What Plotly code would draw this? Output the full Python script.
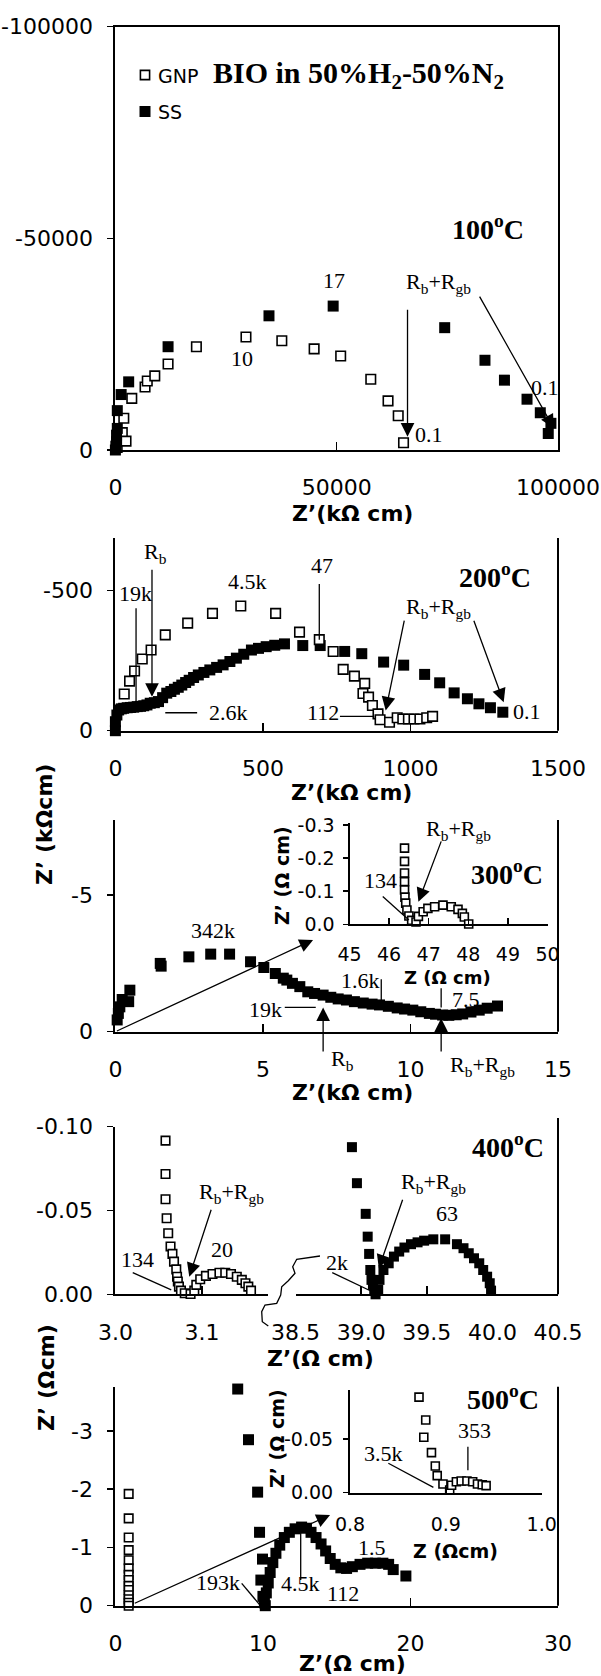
import plotly.graph_objects as go

W, H = 601, 1676
SANS = "DejaVu Sans"
SERIF = "Liberation Serif"

# ---------------- data (x = Z', y = -Z'') ----------------
# 100 C  (kOhm cm)
gnp100_x = [400, 900, 1560, 1900, 2400, 3700, 6700, 7200, 8900, 11900, 18300, 29500, 37600, 44900, 50900, 57700, 61600, 63900, 65100]
gnp100_y = [-600, -2600, -4100, -7500, -2100, -12200, -14900, -16300, -17500, -20300, -24400, -26700, -25800, -23900, -22200, -16700, -11600, -8100, -1700]
ss100_x = [0, 100, 260, 260, 430, 430, 1300, 3000, 11900, 34700, 49200, 74400, 83500, 87900, 93000, 96000, 98400, 97800]
ss100_y = [0, -900, -1960, -3500, -5100, -9300, -13100, -16100, -24400, -31700, -34000, -28900, -21200, -16500, -12000, -8800, -6300, -3900]

# 200 C  (kOhm cm)
gnp200_x = [30, 48, 65, 91, 121, 169, 245, 329, 425, 543, 624, 691, 738, 772, 810, 845, 839, 858, 871, 890, 897, 929, 955, 974, 993, 1012, 1032, 1055, 1075]
gnp200_y = [-131, -177, -213, -256, -288, -342, -384, -419, -445, -419, -352, -325, -283, -219, -195, -169, -133, -120, -90, -60, -39, -30, -46, -42, -42, -42, -42, -46, -51]
ss200_x = [0, 0, 5, 11, 20, 28, 40, 51, 62, 74, 85, 96, 107, 118, 132, 146, 160, 174, 188, 200, 213, 225, 238, 250, 265, 281, 300, 320, 343, 365, 388, 410, 435, 461, 485, 511, 540, 573, 635, 694, 777, 835, 909, 977, 1048, 1099, 1148, 1193, 1232, 1271, 1313]
ss200_y = [0, -32, -56, -74, -78, -80, -82, -83, -84, -86, -87, -89, -92, -98, -100, -104, -118, -134, -140, -148, -155, -163, -172, -180, -190, -199, -208, -217, -226, -235, -247, -259, -273, -288, -294, -300, -305, -310, -304, -304, -283, -275, -245, -234, -201, -171, -135, -114, -96, -82, -66]

# 300 C  (kOhm cm)
ss300_x = [0.06, 0.1, 0.15, 0.23, 0.45, 0.49, 1.52, 1.55, 2.49, 3.23, 3.87, 4.58, 5.03, 5.42, 5.69, 5.81, 6.0, 6.25, 6.52, 6.75, 7.04, 7.3, 7.55, 7.83, 8.1, 8.4, 8.7, 8.95, 9.25, 9.55, 9.8, 10.08, 10.35, 10.64, 10.85, 11.09, 11.3, 11.55, 11.77, 12.05, 12.33, 12.6, 12.95]
ss300_y = [-0.43, -0.67, -0.91, -1.18, -1.1, -1.52, -2.5, -2.4, -2.74, -2.84, -2.84, -2.56, -2.35, -2.13, -1.96, -1.89, -1.77, -1.65, -1.46, -1.4, -1.34, -1.26, -1.2, -1.16, -1.1, -1.05, -1.01, -0.98, -0.93, -0.87, -0.83, -0.79, -0.73, -0.67, -0.64, -0.61, -0.6, -0.62, -0.65, -0.72, -0.79, -0.86, -0.94]
# 300 C inset (Ohm cm)
gnp300_x = [46.39, 46.39, 46.39, 46.39, 46.39, 46.4, 46.42, 46.45, 46.5, 46.57, 46.68, 46.74, 46.86, 46.98, 47.15, 47.36, 47.57, 47.74, 47.85, 47.9, 48.01]
gnp300_y = [-0.23, -0.19, -0.155, -0.129, -0.104, -0.082, -0.064, -0.043, -0.025, -0.012, -0.007, -0.024, -0.038, -0.048, -0.053, -0.058, -0.053, -0.045, -0.033, -0.022, -0.001]

# 400 C (Ohm cm)
gnp400_x = [3.0578, 3.0578, 3.0578, 3.0591, 3.0609, 3.0636, 3.0658, 3.0676, 3.0702, 3.0711, 3.072, 3.0733, 3.0756, 3.08, 3.0867, 3.091, 3.0933, 3.0978, 3.1044, 3.112, 3.12, 3.1267, 3.1333, 3.14, 3.1458, 3.15, 3.1533, 3.1564]
gnp400_y = [-0.0917, -0.0718, -0.0567, -0.0454, -0.0364, -0.0285, -0.0241, -0.0195, -0.0149, -0.0105, -0.0076, -0.0046, -0.0022, -0.0006, -0.0002, -0.0022, -0.0056, -0.009, -0.011, -0.0121, -0.0129, -0.0129, -0.0121, -0.0105, -0.0086, -0.0066, -0.0046, -0.0022]
ss400_x = [38.93, 38.968, 39.035, 39.05, 39.061, 39.07, 39.079, 39.09, 39.1, 39.11, 39.13, 39.14, 39.17, 39.21, 39.25, 39.29, 39.33, 39.38, 39.43, 39.48, 39.55, 39.64, 39.73, 39.78, 39.82, 39.86, 39.9, 39.93, 39.96, 39.98, 39.99]
ss400_y = [-0.0878, -0.0663, -0.048, -0.0344, -0.0241, -0.0145, -0.0086, -0.0056, -0.0026, 0.0, -0.0026, -0.0086, -0.0145, -0.0185, -0.0225, -0.0255, -0.0279, -0.0299, -0.031, -0.032, -0.0328, -0.0328, -0.0299, -0.0275, -0.0245, -0.0215, -0.0185, -0.0145, -0.0105, -0.0066, -0.0022]

# 500 C (Ohm cm)
gnp500_x = [0.9, 0.9, 0.9, 0.9, 0.9, 0.9, 0.9, 0.9, 0.9, 0.9, 0.9, 0.9, 0.9, 0.9]
gnp500_y = [-1.92, -1.5, -1.17, -0.955, -0.78, -0.64, -0.53, -0.44, -0.34, -0.27, -0.18, -0.11, -0.05, 0]
ss500_x = [8.29, 9.02, 9.64, 9.77, 9.97, 9.86, 10.0, 10.1, 10.16, 10.23, 10.36, 10.49, 10.67, 10.88, 11.14, 11.45, 11.79, 12.18, 12.62, 12.95, 13.26, 13.6, 13.94, 14.25, 14.56, 14.9, 15.28, 15.67, 16.06, 16.58, 17.1, 17.62, 18.13, 18.52, 18.83, 19.69]
ss500_y = [-3.72, -2.85, -1.95, -1.26, -0.8, -0.44, -0.16, -0.05, 0, -0.22, -0.39, -0.57, -0.74, -0.9, -1.04, -1.17, -1.26, -1.32, -1.35, -1.33, -1.26, -1.17, -1.06, -0.94, -0.81, -0.71, -0.65, -0.64, -0.67, -0.71, -0.73, -0.73, -0.73, -0.71, -0.62, -0.51]
gnp500i_x = [0.872, 0.879, 0.877, 0.885, 0.889, 0.891, 0.897, 0.904, 0.906, 0.911, 0.916, 0.922, 0.928, 0.933, 0.938, 0.942]
gnp500i_y = [-0.0893, -0.068, -0.0519, -0.0375, -0.025, -0.016, -0.0081, -0.0025, -0.007, -0.0103, -0.011, -0.011, -0.0103, -0.0081, -0.0075, -0.0066]

# ---------------- tick labels ----------------
p1_xt, p1_xl = [0, 50000, 100000], ["0", "50000", "100000"]
p1_yt, p1_yl = [0, -50000, -100000], ["0", "-50000", "-100000"]
p2_xt, p2_xl = [0, 500, 1000, 1500], ["0", "500", "1000", "1500"]
p2_yt, p2_yl = [0, -500], ["0", "-500"]
p3_xt, p3_xl = [0, 5, 10, 15], ["0", "5", "10", "15"]
p3_yt, p3_yl = [0, -5], ["0", "-5"]
i3_xt, i3_xl = [45, 46, 47, 48, 49, 50], ["45", "46", "47", "48", "49", "50"]
i3_yt, i3_yl = [0, -0.1, -0.2, -0.3], ["0.0", "-0.1", "-0.2", "-0.3"]
p4l_xt, p4l_xl = [3.0, 3.1], ["3.0", "3.1"]
p4r_xt, p4r_xl = [38.5, 39.0, 39.5, 40.0, 40.5], ["38.5", "39.0", "39.5", "40.0", "40.5"]
p4_yt, p4_yl = [0, -0.05, -0.10], ["0.00", "-0.05", "-0.10"]
p5_xt, p5_xl = [0, 10, 20, 30], ["0", "10", "20", "30"]
p5_yt, p5_yl = [0, -1, -2, -3], ["0", "-1", "-2", "-3"]
i5_xt, i5_xl = [0.8, 0.9, 1.0], ["0.8", "0.9", "1.0"]
i5_yt, i5_yl = [0, -0.05], ["0.00", "-0.05"]
series_names = ["GNP", "SS"]

TICK = 22
ITICK = 19
LAB = 22
TEMP = 28


def PX(p):
    return p / W


def PY(p):
    return 1 - p / H


def xax(l, r, rng, tv, tt, anchor, size=TICK, standoff=17, ticklen=8, mirror=False):
    return dict(domain=[PX(l), PX(r)], range=rng, anchor=anchor, showline=True, linecolor="black",
                linewidth=2, ticks="inside", ticklen=ticklen, tickwidth=1.5, tickcolor="black",
                tickvals=tv, ticktext=tt, tickfont=dict(family=SANS, size=size, color="black"),
                ticklabelstandoff=standoff, showgrid=False, zeroline=False, mirror=mirror,
                automargin=False, fixedrange=True)


def yax(top, bot, rng, tv, tt, anchor, size=TICK, standoff=10, ticklen=6, mirror=False):
    return dict(domain=[PY(bot), PY(top)], range=rng, anchor=anchor, showline=True, linecolor="black",
                linewidth=2, ticks="outside", ticklen=ticklen, tickwidth=1.5, tickcolor="black",
                tickvals=tv, ticktext=tt, tickfont=dict(family=SANS, size=size, color="black"),
                ticklabelstandoff=standoff, showgrid=False, zeroline=False, mirror=mirror,
                automargin=False, fixedrange=True)


def gnp(x, y, xa, ya, size=9.5):
    return go.Scatter(x=x, y=y, xaxis=xa, yaxis=ya, mode="markers", name="GNP", showlegend=False,
                      cliponaxis=False, hoverinfo="skip",
                      marker=dict(symbol="square", size=size, color="white", line=dict(color="black", width=1.6)))


def ss(x, y, xa, ya, size=11):
    return go.Scatter(x=x, y=y, xaxis=xa, yaxis=ya, mode="markers", name="SS", showlegend=False,
                      cliponaxis=False, hoverinfo="skip",
                      marker=dict(symbol="square", size=size, color="black", line=dict(width=0)))


fig = go.Figure()
fig.add_trace(gnp(gnp100_x, gnp100_y, "x", "y"))
fig.add_trace(ss(ss100_x, ss100_y, "x", "y"))
fig.add_trace(ss(ss200_x, ss200_y, "x2", "y2"))
fig.add_trace(gnp(gnp200_x, gnp200_y, "x2", "y2"))
fig.add_trace(ss(ss300_x, ss300_y, "x3", "y3"))
fig.add_trace(gnp(gnp300_x, gnp300_y, "x4", "y4", size=8))
fig.add_trace(gnp(gnp400_x, gnp400_y, "x5", "y5", size=8.5))
fig.add_trace(ss(ss400_x, ss400_y, "x6", "y5", size=10))
fig.add_trace(gnp(gnp500_x, gnp500_y, "x7", "y7", size=8.5))
fig.add_trace(ss(ss500_x, ss500_y, "x7", "y7"))
fig.add_trace(gnp(gnp500i_x, gnp500i_y, "x8", "y8", size=8))

ann = []
shapes = []


def text(t, x, y, size=LAB, family=SERIF, angle=0, xanchor="center"):
    ann.append(dict(text=t, x=PX(x), y=PY(y), xref="paper", yref="paper", showarrow=False,
                    font=dict(family=family, size=size, color="black"), xanchor=xanchor,
                    yanchor="middle", textangle=angle))


def arrow(xa, ya, x, y, ax, ay):
    ann.append(dict(text="", x=x, y=y, ax=ax, ay=ay, xref=xa, yref=ya, axref=xa, ayref=ya,
                    showarrow=True, arrowhead=2, arrowsize=2.1, arrowwidth=1.3, arrowcolor="black"))


def seg(xa, ya, x0, y0, x1, y1, w=1.3):
    shapes.append(dict(type="line", xref=xa, yref=ya, x0=x0, y0=y0, x1=x1, y1=y1,
                       line=dict(color="black", width=w)))


def rborder(xa, ya, y0=0, y1=1):
    shapes.append(dict(type="line", xref=xa + " domain", yref=ya, x0=1, x1=1, y0=y0, y1=y1,
                       line=dict(color="black", width=2)))


def legend_box(cx, cy, half, fill, lw):
    shapes.append(dict(type="rect", xref="paper", yref="paper",
                       x0=PX(cx - half), x1=PX(cx + half), y0=PY(cy + half), y1=PY(cy - half),
                       fillcolor=fill, line=dict(color="black", width=lw)))


RBRGB = "R<sub>b</sub>+R<sub>gb</sub>"
BOLD = lambda s: "<b>" + s + "</b>"

# ---- legend (drawn manually as in the original) ----
legend_box(145, 75, 4.6, "white", 1.6)
text(series_names[0], 156, 76, size=19, family=SANS, xanchor="left")
legend_box(145, 111.5, 5.5, "black", 0)
text(series_names[1], 156, 112, size=19, family=SANS, xanchor="left")

# ---- panel 1 ----
text(BOLD("BIO in 50%H<sub>2</sub>-50%N<sub>2</sub>"), 358, 75, size=30)
text(BOLD("100<sup>o</sup>C"), 488, 227, size=TEMP)
text("17", 334, 280)
text("10", 242, 358)
text(RBRGB, 438, 283)
text("0.1", 429, 435)
text("0.1", 545, 387)
arrow("x", "y", 66000, -3140, 66000, -33470)
arrow("x", "y", 99050, -5130, 82100, -36600)
text(BOLD("Z’(kΩ cm)"), 352, 513, size=22, family=SANS)

# ---- panel 2 ----
rborder("x2", "y2 domain")
text(BOLD("200<sup>o</sup>C"), 495, 575, size=TEMP)
text("R<sub>b</sub>", 155, 553)
arrow("x2", "y2", 124, -121, 124, -580)
text("19k", 135, 593)
seg("x2", "y2", 70, -437, 70, -104)
text("4.5k", 247, 582)
text("47", 322, 565)
seg("x2", "y2", 691, -524, 691, -325)
text(RBRGB, 438, 608)
arrow("x2", "y2", 916, -72, 980, -398)
arrow("x2", "y2", 1316, -102, 1213, -398)
text("2.6k", 228, 713)
seg("x2", "y2", 169, -64, 277, -64)
text("112", 323, 713)
seg("x2", "y2", 761, -51, 877, -51)
text("0.1", 527, 712)
text(BOLD("Z’(kΩ cm)"), 351, 792, size=22, family=SANS)
text(BOLD("Z’ (kΩcm)"), 44, 825, size=22, family=SANS, angle=-90)

# ---- panel 3 ----
rborder("x3", "y3 domain")
text(BOLD("300<sup>o</sup>C"), 507, 872, size=TEMP)
text("342k", 213, 930)
arrow("x3", "y3", 6.7, -3.36, 0.0, 0.0)
text("19k", 265, 1009)
seg("x3", "y3", 5.74, -0.89, 6.79, -0.89)
arrow("x3", "y3", 7.04, -0.89, 7.04, 0.78)
text("R<sub>b</sub>", 342, 1060)
text("1.6k", 360, 980)
seg("x3", "y3", 9.01, -1.92, 9.01, -1.1)
text("7.5", 466, 999)
seg("x3", "y3", 11.04, -1.59, 11.04, -0.89)
arrow("x3", "y3", 11.04, -0.49, 11.04, 0.78)
text(RBRGB, 483, 1066)
text(BOLD("Z’(kΩ cm)"), 352, 1092, size=22, family=SANS)
# inset
text("134", 380, 880)
seg("x4", "y4", 45.84, -0.084, 46.5, -0.013)
text(RBRGB, 458, 830)
arrow("x4", "y4", 46.74, -0.068, 47.33, -0.255)
text(BOLD("Z (Ω cm)"), 447, 977, size=18, family=SANS)
text(BOLD("Z’ (Ω cm)"), 282, 876, size=19, family=SANS, angle=-90)

# ---- panel 4 ----
shapes.append(dict(type="line", xref="x6 domain", yref="paper", x0=1, x1=1, y0=PY(1294.3), y1=PY(1118),
                   line=dict(color="black", width=2)))
text(BOLD("400<sup>o</sup>C"), 508, 1145, size=TEMP)
text(RBRGB, 231, 1193)
arrow("x5", "y5", 3.0852, -0.0105, 3.111, -0.0513)
text("20", 222, 1249)
text("134", 137, 1259)
seg("x5", "y5", 3.02, -0.0129, 3.0644, -0.0026)
text("2k", 337, 1262)
seg("x6", "y5", 38.78, -0.0129, 39.07, -0.0021)
text(RBRGB, 433, 1183)
arrow("x6", "y5", 39.135, -0.0155, 39.32, -0.0573)
text("63", 447, 1213)
squig = [(320, 1256), (296.7, 1259.3), (292.7, 1266.7), (295, 1273.3), (288.3, 1280.7), (281.7, 1286.7),
         (280.7, 1295), (276.7, 1303.3), (265, 1305), (261.7, 1311.7), (262.3, 1321.7), (268.3, 1326)]
path = "M" + " L".join("%.5f,%.5f" % (PX(a), PY(b)) for a, b in squig)
shapes.append(dict(type="path", xref="paper", yref="paper", path=path, line=dict(color="black", width=1.3)))
text(BOLD("Z’(Ω cm)"), 320, 1358, size=22, family=SANS)
text(BOLD("Z’ (Ωcm)"), 46, 1378, size=22, family=SANS, angle=-90)

# ---- panel 5 ----
rborder("x7", "y7 domain")
text(BOLD("500<sup>o</sup>C"), 503, 1397, size=TEMP)
arrow("x7", "y7", 14.55, -1.556, 1.21, -0.03)
text("193k", 218, 1582)
seg("x7", "y7", 8.56, -0.384, 9.8, -0.01)
text("4.5k", 300, 1583)
seg("x7", "y7", 12.56, -1.31, 12.56, -0.44)
text("112", 343, 1593)
text("1.5", 372, 1547)
text(BOLD("Z’(Ω cm)"), 352, 1663, size=22, family=SANS)
# inset
text("353", 474, 1430)
seg("x8", "y8", 0.923, -0.043, 0.923, -0.021)
text("3.5k", 383, 1453)
seg("x8", "y8", 0.84, -0.0275, 0.887, -0.005)
text(BOLD("Z (Ωcm)"), 455, 1551, size=19, family=SANS)
text(BOLD("Z’ (Ω cm)"), 277, 1439, size=19, family=SANS, angle=-90)

L, R = 115.4, 558
fig.update_layout(
    width=W, height=H, margin=dict(l=0, r=0, t=0, b=0, autoexpand=False),
    paper_bgcolor="white", plot_bgcolor="rgba(0,0,0,0)",
    xaxis=xax(L, R, [0, 100000], p1_xt, p1_xl, "y", mirror=True),
    yaxis=yax(26.7, 450, [0, -100000], p1_yt, p1_yl, "x", mirror=True),
    xaxis2=xax(L, R, [0, 1500], p2_xt, p2_xl, "y2"),
    yaxis2=yax(538, 730.7, [0, -688], p2_yt, p2_yl, "x2"),
    xaxis3=xax(L, R, [0, 15], p3_xt, p3_xl, "y3"),
    yaxis3=yax(820, 1031.7, [0, -7.75], p3_yt, p3_yl, "x3"),
    xaxis4=xax(349.5, 547.5, [45, 50], i3_xt, i3_xl, "y4", size=ITICK, standoff=12, ticklen=6),
    yaxis4=yax(823.3, 924.3, [0, -0.305], i3_yt, i3_yl, "x4", size=ITICK, standoff=4, ticklen=5),
    xaxis5=xax(L, 268, [3.0, 3.176], p4l_xt, p4l_xl, "y5"),
    yaxis5=yax(1126.7, 1294.3, [0, -0.1], p4_yt, p4_yl, "x5"),
    xaxis6=xax(295.5, R, [38.5, 40.5], p4r_xt, p4r_xl, "y5"),
    xaxis7=xax(L, R, [0, 30], p5_xt, p5_xl, "y7"),
    yaxis7=yax(1386.7, 1605.7, [0, -3.76], p5_yt, p5_yl, "x7"),
    xaxis8=xax(350, 541.7, [0.8, 1.0], i5_xt, i5_xl, "y8", size=ITICK, standoff=13, ticklen=6),
    yaxis8=yax(1390, 1492.7, [0, -0.096], i5_yt, i5_yl, "x8", size=ITICK, standoff=6, ticklen=5),
    showlegend=False,
    annotations=ann, shapes=shapes,
)

fig.write_html(
    "out.html",
    config={"displayModeBar": False, "staticPlot": True},
    post_script="document.body.style.margin='0px';document.body.style.padding='0px';"
                "document.body.style.overflow='hidden';",
)
